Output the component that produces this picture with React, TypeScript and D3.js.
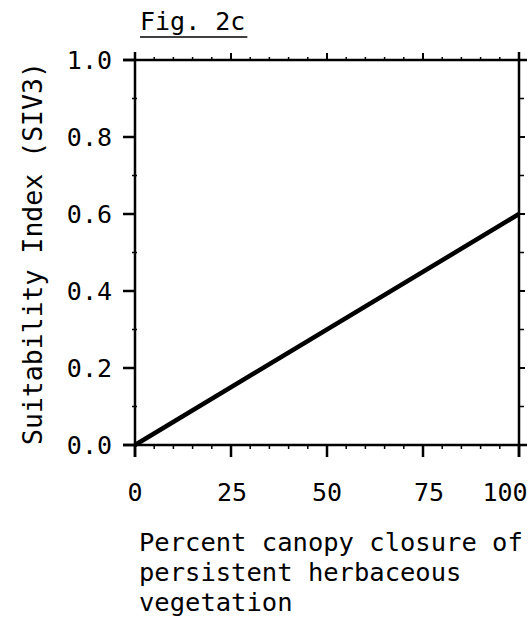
import { useEffect, useRef } from "react";
import * as d3 from "d3";

// canopy closure (%) vs suitability index
const closureValues = [0, 100];
const siValues = [0, 0.6];

const xTicks = [0, 25, 50, 75, 100];
const xTickLabels = ["0", "25", "50", "75", "100"];
const xMinorTicks = d3.range(0, 101, 5);
const yTicks = [0, 0.2, 0.4, 0.6, 0.8, 1.0];
const yTickLabels = ["0.0", "0.2", "0.4", "0.6", "0.8", "1.0"];
const yMinorTicks = [0.1, 0.3, 0.5, 0.7, 0.9];

const titleText = "Fig. 2c";
const yLabel = "Suitability Index (SIV3)";
const xLabelLines = ["Percent canopy closure of", "persistent herbaceous", "vegetation"];

const App = () => {
    const ref = useRef<SVGSVGElement>(null);

    useEffect(() => {
        const svg = d3.select(ref.current);
        svg.selectAll("*").remove();

        const width = 532;
        const height = 622;
        const margin = { top: 60, right: 13, bottom: 177, left: 135 };
        const font = "'DejaVu Sans Mono', monospace";

        const x = d3.scaleLinear().domain([0, 100]).range([margin.left, width - margin.right]);
        const y = d3.scaleLinear().domain([0, 1]).range([height - margin.bottom, margin.top]);

        const g = svg.append("g");

        const x0 = x(0), x1 = x(100), y0 = y(0), y1 = y(1);
        const seg = (a: number, b: number, c: number, d: number, w = 2) =>
            g.append("line")
                .attr("x1", a).attr("y1", b).attr("x2", c).attr("y2", d)
                .attr("stroke", "#000").attr("stroke-width", w);

        // frame, lines run a bit past the corners
        seg(x0 - 12, y0, x1 + 8, y0, 2.5);
        seg(x0 - 12, y1, x1 + 8, y1, 2.5);
        seg(x0, y1 - 8, x0, y0 + 12, 2.5);
        seg(x1, y1 - 8, x1, y0 + 12, 2.5);

        // bottom ticks
        xMinorTicks.forEach(v => seg(x(v), y0, x(v), y0 + 4, 1.5));
        xTicks.forEach(v => seg(x(v), y0, x(v), y0 + 12, 2.5));
        // top ticks
        xMinorTicks.forEach(v => seg(x(v), y1, x(v), y1 - 3, 1.5));
        xTicks.forEach(v => seg(x(v), y1, x(v), y1 - 7, 2));
        // left ticks
        yTicks.forEach(v => seg(x0 - 12, y(v), x0, y(v), 2.5));
        yMinorTicks.forEach(v => seg(x0 - 3, y(v), x0 + 2, y(v), 1.5));
        // right ticks
        yTicks.forEach(v => seg(x1, y(v), x1 + 6, y(v), 2));
        yMinorTicks.forEach(v => seg(x1, y(v), x1 + 5, y(v), 1.5));

        // tick labels
        g.selectAll(".ylab")
            .data(yTicks)
            .enter().append("text")
            .attr("x", x0 - 23)
            .attr("y", d => y(d))
            .attr("dy", "0.36em")
            .attr("text-anchor", "end")
            .attr("font-family", font)
            .attr("font-size", 25)
            .text((d, i) => yTickLabels[i]);

        const xLabelShift = [0, 1, 0, 6, -14];
        g.selectAll(".xlab")
            .data(xTicks)
            .enter().append("text")
            .attr("x", (d, i) => x(d) + xLabelShift[i])
            .attr("y", y0 + 56)
            .attr("text-anchor", "middle")
            .attr("font-family", font)
            .attr("font-size", 25)
            .text((d, i) => xTickLabels[i]);

        // line
        const line = d3.line<number>()
            .x((d, i) => x(closureValues[i]))
            .y(d => y(d));

        g.append("path")
            .datum(siValues)
            .attr("d", line)
            .attr("fill", "none")
            .attr("stroke", "#000")
            .attr("stroke-width", 4.5);

        // title, underlined
        const title = g.append("text")
            .attr("x", 140)
            .attr("y", 30)
            .attr("font-family", font)
            .attr("font-size", 25)
            .text(titleText);
        const tb = (title.node() as SVGTextElement).getBBox();
        seg(tb.x, 37, tb.x + tb.width + 2, 37, 1.5);

        // y axis label
        g.append("text")
            .attr("transform", `translate(42, 445) rotate(-90)`)
            .attr("text-anchor", "start")
            .attr("font-family", font)
            .attr("font-size", 26.5)
            .text(yLabel);

        // x axis label
        g.selectAll(".xtitle")
            .data(xLabelLines)
            .enter().append("text")
            .attr("x", 139)
            .attr("y", (d, i) => 551 + i * 30)
            .attr("font-family", font)
            .attr("font-size", 25.5)
            .text(d => d);
    }, []);

    return (
        <svg
            ref={ref}
            width={532}
            height={622}
            style={{ position: "absolute", left: 0, top: 0, display: "block", background: "#fff" }}
        />
    );
};

export default App;
